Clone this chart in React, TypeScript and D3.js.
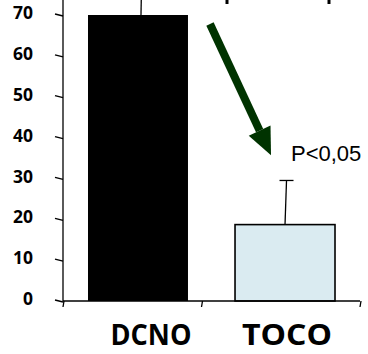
import React from "react";
import * as d3 from "d3";

const categories = ["DCNO", "TOCO"];
const values = [70, 18.7];
const errorUpper = [90, 29.5];
const yTicks = [0, 10, 20, 30, 40, 50, 60, 70];
const pLabel = "P<0,05";
const arrowFrom = { cat: 0, value: 67.8 };
const arrowTo = { cat: 1, value: 35.7 };

const W = 368;
const H = 354;

export default function App() {
  const x = d3
    .scaleBand<string>()
    .domain(categories)
    .range([63, 360])
    .paddingInner(0.32)
    .paddingOuter(0.17);
  const y = d3.scaleLinear().domain([0, 70]).range([301, 15]);
  const step = x.step();
  const bw = x.bandwidth();
  const fills = ["#000000", "#DAEBF1"];

  const boundaries = [
    x.range()[0],
    (x(categories[1]) as number) - (step * x.paddingInner()) / 2 - 10,
    x.range()[1],
  ];

  // arrow
  const ax0 = (x(categories[arrowFrom.cat]) as number) + bw + 22;
  const ay0 = y(arrowFrom.value);
  const ax1 = (x(categories[arrowTo.cat]) as number) + 36;
  const ay1 = y(arrowTo.value);
  const ang = Math.atan2(ay1 - ay0, ax1 - ax0);
  const headLen = 27;
  const headHalf = 12;
  const bx = ax1 - headLen * Math.cos(ang);
  const by = ay1 - headLen * Math.sin(ang);
  const px = -Math.sin(ang);
  const py = Math.cos(ang);
  const head = [
    [ax1, ay1],
    [bx + px * headHalf, by + py * headHalf],
    [bx - px * headHalf, by - py * headHalf],
  ];

  return (
    <svg
      width={W}
      height={H}
      style={{ position: "absolute", left: 0, top: 0, background: "#fff" }}
    >
      {/* clipped top bracket legs */}
      <line x1={227} x2={227} y1={-2} y2={4} stroke="#000" strokeWidth={3} />
      <line x1={329} x2={329} y1={-2} y2={4} stroke="#000" strokeWidth={3} />

      {/* bars */}
      {categories.map((c, i) => (
        <rect
          key={c}
          x={x(c)}
          y={y(values[i])}
          width={bw}
          height={y(0) - y(values[i])}
          fill={fills[i]}
          stroke="#000"
          strokeWidth={i === 0 ? 0 : 1.6}
        />
      ))}

      {/* error bars */}
      {categories.map((c, i) => {
        const cx = (x(c) as number) + bw / 2 + (i === 0 ? 3 : 0);
        return (
          <g key={c + "e"} stroke="#000" strokeWidth={1.3}>
            <line x1={cx} x2={cx + 1.5} y1={y(values[i])} y2={y(errorUpper[i])} />
            <line
              x1={cx + 1.5 - 7}
              x2={cx + 1.5 + 7}
              y1={y(errorUpper[i])}
              y2={y(errorUpper[i])}
            />
          </g>
        );
      })}

      {/* y axis */}
      <line x1={63} x2={63} y1={0} y2={y(0)} stroke="#000" strokeWidth={1.3} />
      {yTicks.map((t) => (
        <g key={t}>
          <line x1={55} x2={63} y1={y(t) - 1} y2={y(t) + 1} stroke="#000" strokeWidth={1.3} />
          <text
            x={33}
            y={y(t) - 2}
            dy="0.36em"
            textAnchor="end"
            fontFamily="Open Sans"
            fontWeight="bold"
            fontSize={17}
            textLength={t === 0 ? 10 : 20}
            lengthAdjust="spacingAndGlyphs"
            fill="#000"
          >
            {t}
          </text>
        </g>
      ))}

      {/* x axis */}
      <line x1={63} x2={360} y1={y(0)} y2={y(0)} stroke="#000" strokeWidth={1.3} />
      {boundaries.map((b, i) => (
        <line key={i} x1={b + 1} x2={b} y1={y(0)} y2={y(0) + 6} stroke="#000" strokeWidth={1.3} />
      ))}
      {categories.map((c) => (
        <text
          key={c + "l"}
          x={(x(c) as number) + bw / 2 + (c === "DCNO" ? 13 : 2)}
          y={345}
          textAnchor="middle"
          fontFamily="Open Sans"
          fontWeight="bold"
          fontSize={29}
          textLength={c === "DCNO" ? 81 : 90}
          lengthAdjust="spacingAndGlyphs"
          fill="#000"
        >
          {c}
        </text>
      ))}

      {/* arrow */}
      <line
        x1={ax0}
        y1={ay0}
        x2={bx}
        y2={by}
        stroke="#003300"
        strokeWidth={8}
      />
      <polygon points={head.map((p) => p.join(",")).join(" ")} fill="#003300" />

      <text
        x={291}
        y={161}
        fontFamily="Liberation Sans"
        fontSize={22}
        fill="#000"
      >
        {pLabel}
      </text>
    </svg>
  );
}
